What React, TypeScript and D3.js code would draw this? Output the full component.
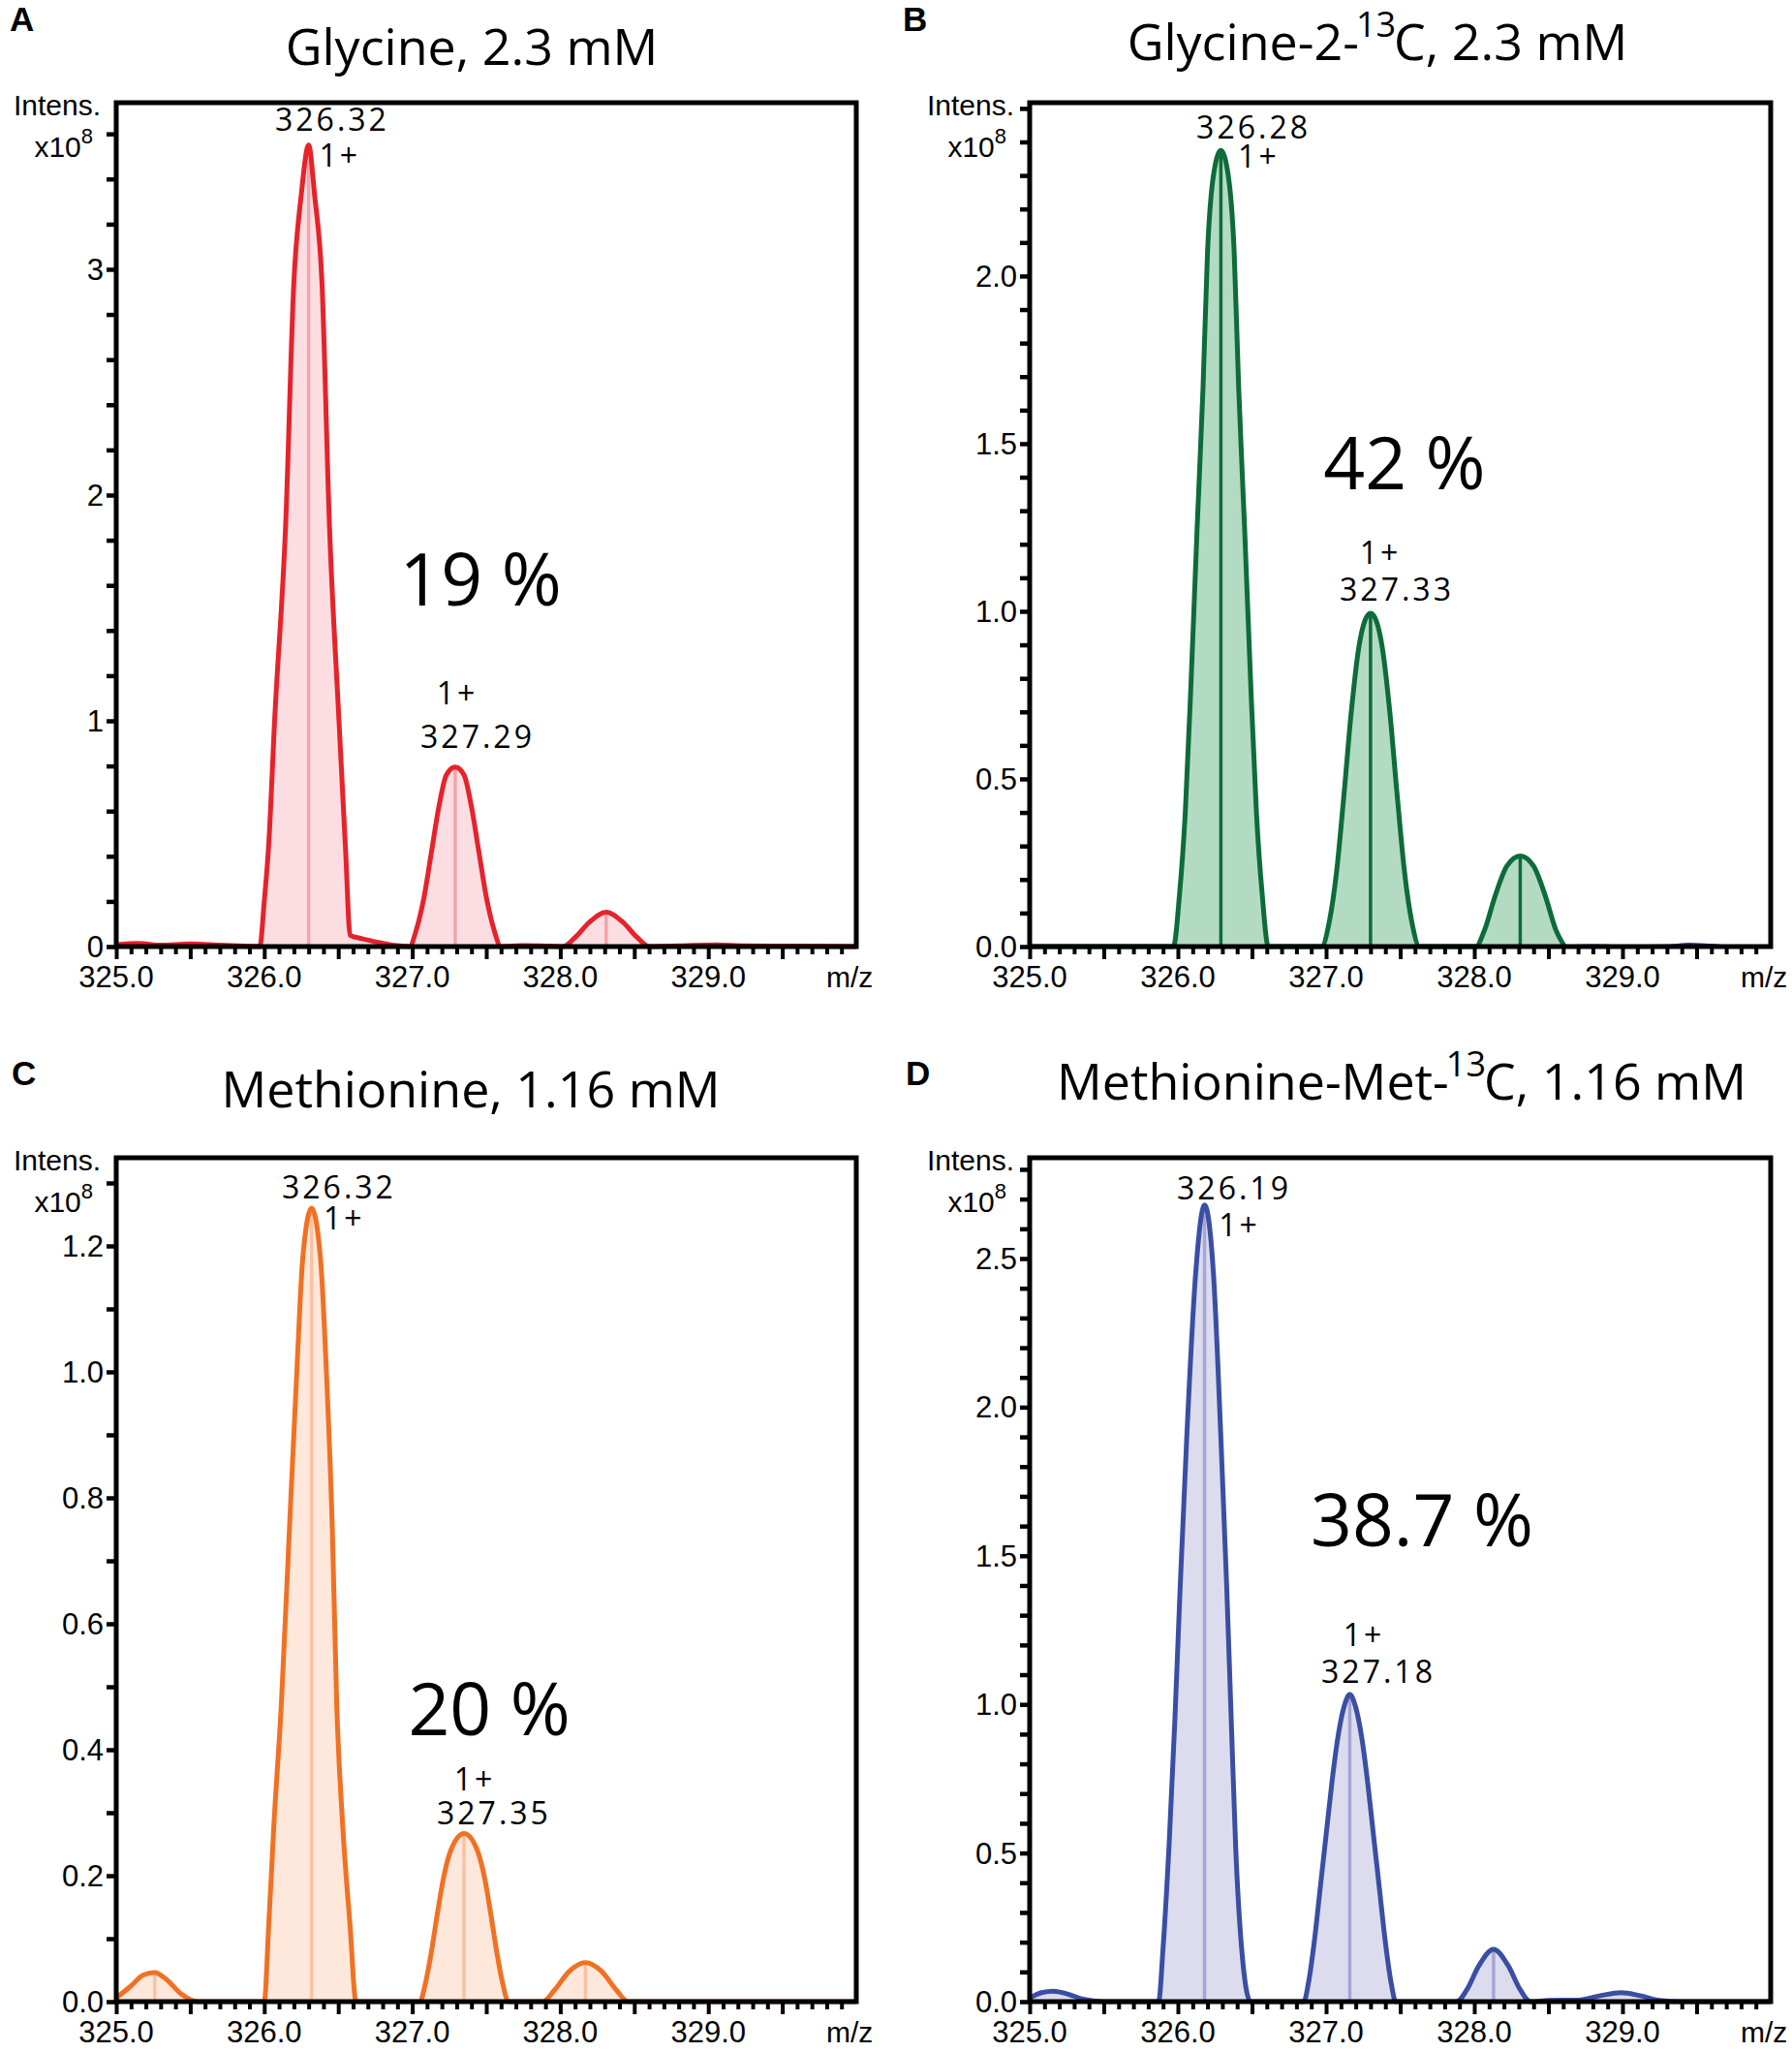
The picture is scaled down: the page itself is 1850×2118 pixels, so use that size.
import React, { useEffect, useRef } from 'react';
import * as d3 from 'd3';

type Pt = [number, number];

// m/z range shared by all four spectra
const mzDomain: Pt = [325, 330];

// profile spectra: [m/z, intensity x10^8]
const glycineProfile: Pt[] = [
  [325.0, 0.008], [325.15, 0.014], [325.3, 0.006], [325.5, 0.012], [325.7, 0.006], [325.9, 0.001], [325.97, 0],
  [326.0, 0.2], [326.03, 0.45], [326.07, 1.0], [326.145, 1.875], [326.2, 2.94], [326.25, 3.33], [326.3, 3.55],
  [326.34, 3.33], [326.39, 2.94], [326.44, 1.875], [326.505, 1.0], [326.55, 0.42], [326.58, 0.05],
  [326.66, 0.035], [326.76, 0.02], [326.88, 0.005], [326.98, 0],
  [327.03, 0.08], [327.08, 0.22], [327.13, 0.42], [327.18, 0.62], [327.23, 0.76], [327.29, 0.795],
  [327.35, 0.76], [327.4, 0.62], [327.45, 0.42], [327.5, 0.22], [327.55, 0.08], [327.6, 0],
  [327.75, 0.004], [327.92, 0.002], [328.02, 0],
  [328.1, 0.04], [328.2, 0.11], [328.31, 0.152], [328.42, 0.11], [328.52, 0.04], [328.6, 0],
  [328.8, 0.003], [329.05, 0.008], [329.25, 0.003], [329.6, 0.002], [330.0, 0]
];

const glycine13Profile: Pt[] = [
  [325.0, 0], [325.97, 0],
  [326.01, 0.15], [326.05, 0.4], [326.09, 0.8], [326.13, 1.25], [326.17, 1.67], [326.2, 2.07], [326.24, 2.3],
  [326.29, 2.375], [326.34, 2.3], [326.38, 2.07], [326.41, 1.67], [326.45, 1.25], [326.49, 0.8],
  [326.53, 0.4], [326.57, 0.15], [326.61, 0],
  [326.97, 0], [327.02, 0.07], [327.07, 0.22], [327.12, 0.45], [327.17, 0.7], [327.22, 0.89], [327.26, 0.97],
  [327.3, 0.994], [327.34, 0.97], [327.38, 0.89], [327.43, 0.7], [327.48, 0.45], [327.53, 0.22],
  [327.58, 0.07], [327.63, 0],
  [328.01, 0], [328.07, 0.05], [328.14, 0.15], [328.22, 0.24], [328.31, 0.27], [328.4, 0.24],
  [328.48, 0.15], [328.55, 0.05], [328.61, 0]
];

// faint baseline trace drawn in blue on panel B
const glycine13Noise: Pt[] = [
  [328.61, 0], [328.8, 0.003], [329.0, 0.001], [329.3, 0.002], [329.45, 0.007], [329.6, 0.004], [329.75, 0], [330.0, 0]
];

const methionineProfile: Pt[] = [
  [325.0, 0.006], [325.1, 0.025], [325.18, 0.042], [325.26, 0.046], [325.34, 0.035], [325.44, 0.012], [325.55, 0],
  [326.0, 0], [326.03, 0.12], [326.065, 0.28], [326.115, 0.47], [326.17, 0.75], [326.22, 1.0], [326.26, 1.18],
  [326.32, 1.26], [326.38, 1.18], [326.42, 1.0], [326.46, 0.75], [326.49, 0.47], [326.53, 0.28],
  [326.58, 0.12], [326.62, 0],
  [327.05, 0], [327.09, 0.03], [327.13, 0.08], [327.17, 0.14], [327.21, 0.195], [327.26, 0.24], [327.35, 0.267],
  [327.44, 0.24], [327.49, 0.195], [327.53, 0.14], [327.57, 0.08], [327.61, 0.03], [327.65, 0],
  [327.88, 0], [327.96, 0.018], [328.06, 0.048], [328.17, 0.062], [328.28, 0.048], [328.38, 0.018], [328.46, 0],
  [330.0, 0]
];

const methionine13Profile: Pt[] = [
  [325.0, 0.012], [325.08, 0.03], [325.16, 0.035], [325.26, 0.025], [325.36, 0.008], [325.5, 0],
  [325.87, 0], [325.9, 0.18], [325.94, 0.52], [325.98, 0.95], [326.015, 1.39], [326.06, 1.9], [326.12, 2.45],
  [326.18, 2.68], [326.24, 2.45], [326.29, 1.9], [326.33, 1.39], [326.36, 0.95], [326.39, 0.52],
  [326.43, 0.18], [326.49, 0],
  [326.85, 0], [326.88, 0.06], [326.92, 0.2], [326.96, 0.38], [327.0, 0.56], [327.04, 0.74], [327.08, 0.89],
  [327.12, 0.99], [327.16, 1.033], [327.2, 0.99], [327.24, 0.89], [327.28, 0.74], [327.32, 0.56],
  [327.36, 0.38], [327.4, 0.2], [327.44, 0.06], [327.47, 0],
  [327.88, 0], [327.95, 0.04], [328.03, 0.12], [328.13, 0.176], [328.23, 0.12], [328.31, 0.04], [328.38, 0],
  [328.5, 0.004], [328.7, 0.005], [328.85, 0.02], [328.99, 0.03], [329.12, 0.02], [329.25, 0.004], [329.4, 0],
  [330.0, 0]
];

// centroid sticks: [m/z, intensity x10^8]
const glycineSticks: Pt[] = [[326.3, 3.55], [327.29, 0.795], [328.31, 0.152]];
const glycine13Sticks: Pt[] = [[326.29, 2.375], [327.3, 0.994], [328.31, 0.27]];
const methionineSticks: Pt[] = [[325.26, 0.046], [326.32, 1.26], [327.35, 0.267], [328.17, 0.062]];
const methionine13Sticks: Pt[] = [[326.18, 2.68], [327.16, 1.033], [328.13, 0.176]];

// y tick labels per panel
const yLabelsA = [0, 1, 2, 3];
const yLabelsB = [0, 0.5, 1.0, 1.5, 2.0];
const yLabelsC = [0, 0.2, 0.4, 0.6, 0.8, 1.0, 1.2];
const yLabelsD = [0, 0.5, 1.0, 1.5, 2.0, 2.5];
const xLabels = [325, 326, 327, 328, 329];

// annotations: [text, m/z of centre, intensity of baseline]
type Note = [string, number, number];
const notesA: Note[] = [['326.32', 326.459, 3.614], ['1+', 326.51, 3.455], ['1+', 327.304, 1.073], ['327.29', 327.441, 0.88]];
const notesB: Note[] = [['326.28', 326.51, 2.41], ['1+', 326.545, 2.324], ['1+', 327.366, 1.142], ['327.33', 327.477, 1.032]];
const notesC: Note[] = [['326.32', 326.505, 1.276], ['1+', 326.54, 1.226], ['1+', 327.421, 0.335], ['327.35', 327.552, 0.282]];
const notesD: Note[] = [['326.19', 326.379, 2.7], ['1+', 326.415, 2.575], ['1+', 327.255, 1.196], ['327.18', 327.353, 1.072]];

const percentA: Note = ['19 %', 327.461, 1.511];
const percentB: Note = ['42 %', 327.529, 1.364];
const percentC: Note = ['20 %', 327.52, 0.423];
const percentD: Note = ['38.7 %', 327.647, 1.532];

// title pieces: [text, isSuperscript]
const titleA: [string, boolean][] = [['Glycine, 2.3 mM', false]];
const titleB: [string, boolean][] = [['Glycine-2-', false], ['13', true], ['C, 2.3 mM', false]];
const titleC: [string, boolean][] = [['Methionine, 1.16 mM', false]];
const titleD: [string, boolean][] = [['Methionine-Met-', false], ['13', true], ['C, 1.16 mM', false]];

interface Panel {
  letter: string;
  letterX: number;
  letterY: number;
  left: number;
  right: number;
  top: number;
  bottom: number;
  yMax: number;
  yStep: number;
  yTop: number;
  yLabels: number[];
  yFmt: (v: number) => string;
  title: [string, boolean][];
  titleX: number;
  titleY: number;
  stroke: string;
  fill: string;
  stick: string;
  profile: Pt[];
  sticks: Pt[];
  noise?: Pt[];
  notes: Note[];
  percent: Note;
}

const fmtInt = (v: number) => d3.format('d')(v);
const fmt1 = (v: number) => d3.format('.1f')(v);

const panels: Panel[] = [
  {
    letter: 'A', letterX: 10, letterY: 32,
    left: 120, right: 884, top: 106, bottom: 977,
    yMax: 3.738, yStep: 0.2, yTop: 3.6, yLabels: yLabelsA, yFmt: fmtInt,
    title: titleA, titleX: 487, titleY: 67,
    stroke: '#e5232b', fill: '#fcdee2', stick: '#f2a5ac',
    profile: glycineProfile, sticks: glycineSticks, notes: notesA, percent: percentA
  },
  {
    letter: 'B', letterX: 932, letterY: 32,
    left: 1063, right: 1828, top: 106, bottom: 977,
    yMax: 2.517, yStep: 0.1, yTop: 2.5, yLabels: yLabelsB, yFmt: fmt1,
    title: titleB, titleX: 1422, titleY: 62,
    stroke: '#0e6b3a', fill: '#b3dbc3', stick: '#0e6b3a',
    profile: glycine13Profile, sticks: glycine13Sticks, noise: glycine13Noise, notes: notesB, percent: percentB
  },
  {
    letter: 'C', letterX: 12, letterY: 1120,
    left: 120, right: 884, top: 1195, bottom: 2066,
    yMax: 1.34, yStep: 0.1, yTop: 1.3, yLabels: yLabelsC, yFmt: fmt1,
    title: titleC, titleX: 486, titleY: 1143,
    stroke: '#f07124', fill: '#fde8db', stick: '#f8c3a1',
    profile: methionineProfile, sticks: methionineSticks, notes: notesC, percent: percentC
  },
  {
    letter: 'D', letterX: 935, letterY: 1120,
    left: 1063, right: 1828, top: 1195, bottom: 2066,
    yMax: 2.839, yStep: 0.1, yTop: 2.8, yLabels: yLabelsD, yFmt: fmt1,
    title: titleD, titleX: 1447, titleY: 1135,
    stroke: '#3a4ea3', fill: '#dddcef', stick: '#a6a5d7',
    profile: methionine13Profile, sticks: methionine13Sticks, notes: notesD, percent: percentD
  }
];

const AXIS_FONT = '"Liberation Sans", Arial, sans-serif';
const TEXT_FONT = '"Open Sans", "Noto Sans", sans-serif';

function drawPanel(svg: d3.Selection<SVGSVGElement, unknown, null, undefined>, p: Panel) {
  const x = d3.scaleLinear().domain(mzDomain).range([p.left, p.right]);
  const y = d3.scaleLinear().domain([0, p.yMax]).range([p.bottom, p.top]);
  const g = svg.append('g');

  // panel letter
  g.append('text')
    .attr('x', p.letterX).attr('y', p.letterY)
    .attr('font-family', AXIS_FONT).attr('font-weight', 'bold').attr('font-size', 35)
    .text(p.letter);

  // title
  const t = g.append('text')
    .attr('x', p.titleX).attr('y', p.titleY)
    .attr('text-anchor', 'middle')
    .attr('font-family', TEXT_FONT).attr('font-size', 52);
  p.title.forEach(([s, sup], i) => {
    const prevSup = i > 0 && p.title[i - 1][1];
    const ts = t.append('tspan').text(s);
    if (sup) ts.attr('font-size', 36).attr('dy', -24).attr('dx', -3);
    else if (prevSup) ts.attr('dy', 24).attr('dx', -2);
  });

  const area = d3.area<Pt>()
    .x(d => x(d[0]))
    .y0(y(0))
    .y1(d => y(d[1]))
    .curve(d3.curveMonotoneX);
  const line = d3.line<Pt>()
    .x(d => x(d[0]))
    .y(d => y(d[1]))
    .curve(d3.curveMonotoneX);

  g.append('path').datum(p.profile).attr('d', area).attr('fill', p.fill);

  g.selectAll('line.stick')
    .data(p.sticks)
    .join('line')
    .attr('class', 'stick')
    .attr('x1', d => x(d[0])).attr('x2', d => x(d[0]))
    .attr('y1', y(0)).attr('y2', d => y(d[1]))
    .attr('stroke', p.stick).attr('stroke-width', 3.5);

  g.append('path').datum(p.profile).attr('d', line)
    .attr('fill', 'none').attr('stroke', p.stroke).attr('stroke-width', 5)
    .attr('stroke-linejoin', 'round');

  if (p.noise) {
    g.append('path').datum(p.noise).attr('d', line)
      .attr('fill', 'none').attr('stroke', '#2d3f95').attr('stroke-width', 3);
  }

  // frame
  g.append('rect')
    .attr('x', p.left).attr('y', p.top)
    .attr('width', p.right - p.left).attr('height', p.bottom - p.top)
    .attr('fill', 'none').attr('stroke', '#000').attr('stroke-width', 5);

  // x ticks: every 0.1, longer every 0.5
  const xMinor = d3.range(0, 50).filter(i => i % 5 !== 0).map(i => 325 + i * 0.1);
  const xMajor = d3.range(0, 10).map(i => 325 + i * 0.5);
  const xa = g.append('g').attr('transform', `translate(0,${p.bottom})`)
    .call(d3.axisBottom(x).tickValues(xMinor).tickSize(8).tickFormat(() => ''));
  const xb = g.append('g').attr('transform', `translate(0,${p.bottom})`)
    .call(d3.axisBottom(x).tickValues(xMajor).tickSize(13).tickFormat(() => ''));
  [xa, xb].forEach(a => {
    a.select('.domain').remove();
    a.selectAll('line').attr('stroke', '#000').attr('stroke-width', 4);
  });
  g.selectAll('text.xl')
    .data(xLabels)
    .join('text')
    .attr('class', 'xl')
    .attr('x', d => x(d)).attr('y', p.bottom + 42)
    .attr('text-anchor', 'middle')
    .attr('font-family', AXIS_FONT).attr('font-size', 31)
    .text(d => d3.format('.1f')(d));
  g.append('text')
    .attr('x', p.right - 31).attr('y', p.bottom + 42)
    .attr('font-family', AXIS_FONT).attr('font-size', 30)
    .text('m/z');

  // y ticks
  const nY = Math.round(p.yTop / p.yStep);
  const yTicks = d3.range(0, nY + 1).map(i => i * p.yStep);
  const ya = g.append('g').attr('transform', `translate(${p.left},0)`)
    .call(d3.axisLeft(y).tickValues(yTicks).tickSize(10).tickFormat(() => ''));
  ya.select('.domain').remove();
  ya.selectAll('line').attr('stroke', '#000').attr('stroke-width', 4.5);
  g.selectAll('text.yl')
    .data(p.yLabels)
    .join('text')
    .attr('class', 'yl')
    .attr('x', p.left - 13).attr('y', d => y(d) + 11)
    .attr('text-anchor', 'end')
    .attr('font-family', AXIS_FONT).attr('font-size', 31)
    .text(d => p.yFmt(d));

  // y axis caption
  g.append('text')
    .attr('x', p.left - 16).attr('y', p.top + 13)
    .attr('text-anchor', 'end')
    .attr('font-family', AXIS_FONT).attr('font-size', 30)
    .text('Intens.');
  const xt = g.append('text')
    .attr('x', p.left - 24).attr('y', p.top + 56)
    .attr('text-anchor', 'end')
    .attr('font-family', AXIS_FONT).attr('font-size', 30);
  xt.append('tspan').text('x10');
  xt.append('tspan').attr('dy', -14).attr('font-size', 22).text('8');

  // peak annotations
  g.selectAll('text.note')
    .data(p.notes)
    .join('text')
    .attr('class', 'note')
    .attr('x', d => x(d[1])).attr('y', d => y(d[2]))
    .attr('text-anchor', 'middle')
    .attr('font-family', TEXT_FONT).attr('font-size', 32)
    .attr('letter-spacing', 3)
    .text(d => d[0]);

  g.append('text')
    .attr('x', x(p.percent[1])).attr('y', y(p.percent[2]))
    .attr('text-anchor', 'middle')
    .attr('font-family', TEXT_FONT).attr('font-size', 75)
    .text(p.percent[0]);
}

const App: React.FC = () => {
  const svgRef = useRef<SVGSVGElement>(null);

  useEffect(() => {
    if (!svgRef.current) return;
    const svg = d3.select(svgRef.current);
    svg.selectAll('*').remove();
    panels.forEach(p => drawPanel(svg, p));
  }, []);

  return (
    <svg
      ref={svgRef}
      width={1850}
      height={2118}
      style={{ position: 'absolute', left: 0, top: 0, background: '#fff' }}
    />
  );
};

export default App;
